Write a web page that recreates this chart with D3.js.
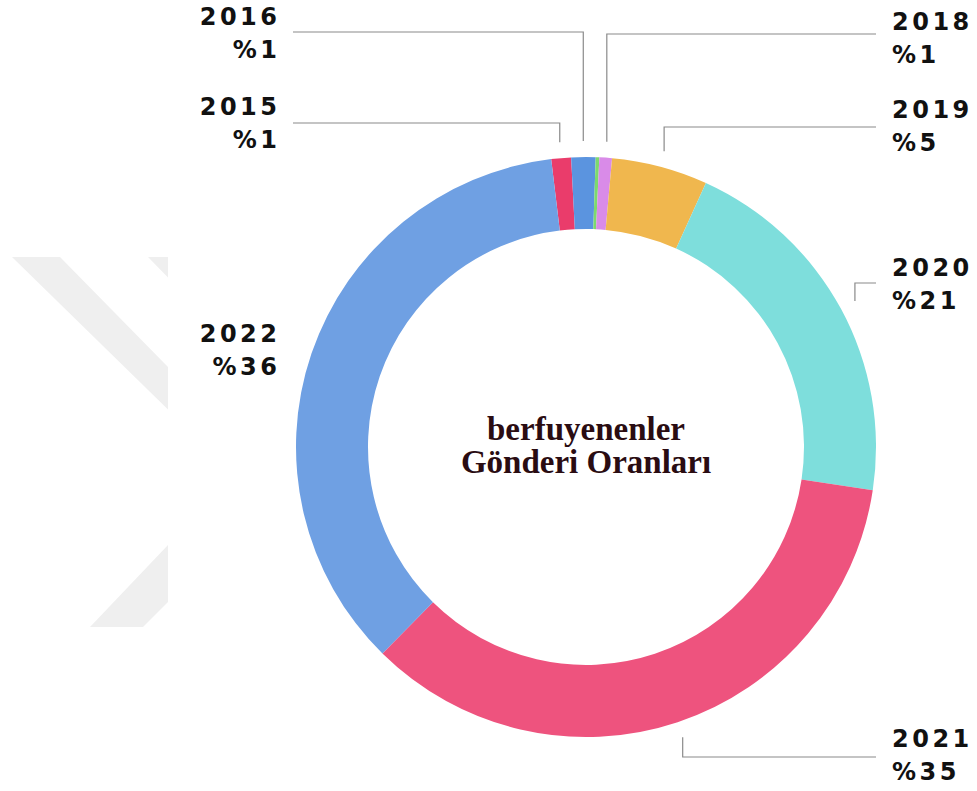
<!DOCTYPE html>
<html>
<head>
<meta charset="utf-8">
<script src="https://cdn.jsdelivr.net/npm/d3@7"></script>
<style>
  html, body { margin: 0; padding: 0; background: #ffffff; }
  svg { display: block; }
</style>
</head>
<body>
<script>
// ---- data ----
const years = ["2015", "2016", "2017", "2018", "2019", "2020", "2021", "2022"];
const shares = [1.1, 1.35, 0.2, 0.7, 5.35, 20.6, 35.0, 35.7];
const pctLabels = ["%1", "%1", "", "%1", "%5", "%21", "%35", "%36"];
const sliceColors = ["#EA3C6B", "#5B94DF", "#7DD96E", "#D98BE8", "#F0B74E", "#7EDEDC", "#EE537E", "#6FA0E3"];
const titleLines = ["berfuyenenler", "Gönderi Oranları"];

// ---- layout (label placement) ----
const W = 977, H = 791;
const cx = 586, cy = 447;
const rOuter = 290, rInner = 218, rLeader = 306;
const startDeg = -6.9;
const labelLayout = [
  { year: "2015", side: "left",  lineY: 123, textY: 115, leader: true },
  { year: "2016", side: "left",  lineY: 32,  textY: 25,  leader: true },
  { year: "2018", side: "right", lineY: 34,  textY: 30,  leader: true },
  { year: "2019", side: "right", lineY: 127, textY: 118, leader: true },
  { year: "2020", side: "right", lineY: 283, textY: 276, leader: true },
  { year: "2021", side: "right", lineY: 757, textY: 747, leader: true },
  { year: "2022", side: "left",  lineY: 0,   textY: 342, leader: false }
];
const leftTextX = 277, rightTextX = 892, leftLineX = 293, rightLineX = 876;

const svg = d3.select("body").append("svg").attr("width", W).attr("height", H);

// watermark (background decoration)
const clip = svg.append("clipPath").attr("id", "wmclip");
clip.append("rect").attr("x", 0).attr("y", 0).attr("width", 168).attr("height", H);
const wm = svg.append("g").attr("fill", "#efefef").attr("clip-path", "url(#wmclip)");
wm.append("polygon").attr("points", "12,257 60,257 230,430 230,470");
wm.append("polygon").attr("points", "148,257 200,257 200,310");
wm.append("polygon").attr("points", "90,627 143,627 230,540 230,480");

const data = years.map((y, i) => ({ year: y, value: shares[i], pct: pctLabels[i], color: sliceColors[i] }));

const startA = startDeg * Math.PI / 180;
const pie = d3.pie().value(d => d.value).sort(null)
  .startAngle(startA).endAngle(startA + 2 * Math.PI);
const arcs = pie(data);
const arc = d3.arc().innerRadius(rInner).outerRadius(rOuter);

const g = svg.append("g").attr("transform", `translate(${cx},${cy})`);
g.selectAll("path.slice").data(arcs).join("path")
  .attr("class", "slice")
  .attr("d", arc)
  .attr("fill", d => d.data.color);

// leaders + labels
const labelFont = "'DejaVu Sans', sans-serif";
const ls = 3.5;
labelLayout.forEach(L => {
  const a = arcs.find(d => d.data.year === L.year);
  const mid = (a.startAngle + a.endAngle) / 2;
  const px = cx + rLeader * Math.sin(mid);
  const py = cy - rLeader * Math.cos(mid);
  if (L.leader) {
    const ex = L.side === "left" ? leftLineX : rightLineX;
    svg.append("path")
      .attr("d", d3.line()([[px, py], [px, L.lineY], [ex, L.lineY]]))
      .attr("fill", "none")
      .attr("stroke", "#8a8a8a")
      .attr("stroke-width", 1.2);
  }
  const tx = L.side === "left" ? leftTextX + ls : rightTextX;
  const anchor = L.side === "left" ? "end" : "start";
  [a.data.year, a.data.pct].forEach((t, k) => {
    svg.append("text")
      .attr("x", tx)
      .attr("y", L.textY + k * 33)
      .attr("text-anchor", anchor)
      .attr("font-family", labelFont)
      .attr("font-weight", "bold")
      .attr("font-size", 24)
      .attr("letter-spacing", ls)
      .attr("fill", "#111")
      .text(t);
  });
});

// centre title
titleLines.forEach((t, k) => {
  svg.append("text")
    .attr("x", cx)
    .attr("y", 440 + k * 33)
    .attr("text-anchor", "middle")
    .attr("font-family", "'Liberation Serif', 'Times New Roman', serif")
    .attr("font-weight", "bold")
    .attr("font-size", 33)
    .attr("fill", "#2a0c12")
    .text(t);
});
</script>
</body>
</html>
